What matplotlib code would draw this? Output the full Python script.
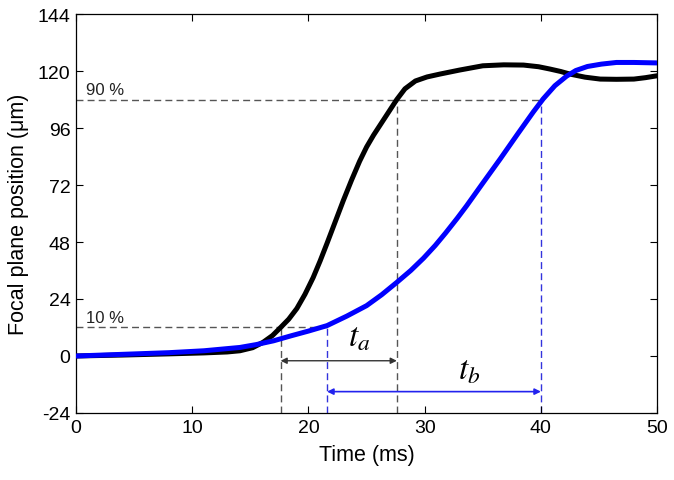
import numpy as np
import matplotlib
matplotlib.use("Agg")
import matplotlib.pyplot as plt

# Data
t_black = [0, 4, 8, 11, 13, 14.1, 15.2, 16.1, 16.9, 17.6, 18.3, 19.0, 19.7, 20.4, 21.0, 21.6, 22.3, 23.0,
           23.7, 24.4, 25.0, 25.6, 26.6, 27.6, 28.3, 29.2, 30.2, 31.3, 33.0, 35.0, 36.8, 38.5, 39.8, 40.8,
           41.7, 42.5, 43.8, 45.1, 46.5, 48.0, 49.0, 50]
y_black = [0, 0.4, 0.9, 1.3, 1.7, 2.2, 3.5, 5.8, 8.6, 12.0, 15.5, 20.0, 26.0, 33.0, 40.0, 47.5, 56.5, 65.5,
           74.0, 82.0, 88.0, 93.0, 100.5, 108.0, 112.5, 115.8, 117.5, 118.7, 120.4, 122.2, 122.6, 122.5, 121.8, 120.8,
           119.8, 118.7, 117.4, 116.6, 116.5, 116.6, 117.2, 118]

t_blue = [0, 4, 8, 11, 14.1, 15.5, 17.0, 18.5, 20.0, 21.6, 23.3, 25.0, 26.3, 27.6, 28.8, 29.9, 30.9, 31.8,
          32.8, 33.6, 35.0, 36.5, 38.0, 39.35, 40.2, 41.2, 42.2, 43.0, 44.0, 45.2, 46.5, 48.0, 50]
y_blue = [0, 0.7, 1.4, 2.2, 3.6, 4.8, 6.4, 8.5, 10.5, 12.8, 16.8, 21.2, 25.8, 31.0, 36.0, 41.2, 46.5, 51.8,
          58.0, 63.2, 72.8, 83.0, 93.5, 102.8, 108.3, 113.8, 117.8, 120.2, 121.9, 122.9, 123.6, 123.6, 123.4]

x_ticks = [0, 10, 20, 30, 40, 50]
y_ticks = [-24, 0, 24, 48, 72, 96, 120, 144]

lvl10, lvl90 = 12, 108
ta_start, ta_end = 17.6, 27.6
tb_start, tb_end = 21.6, 40.0
arrow_a_y, arrow_b_y = -2, -15

plt.rcParams['font.family'] = ['Liberation Sans', 'DejaVu Sans']
plt.rcParams['axes.unicode_minus'] = False

fig = plt.figure(figsize=(6.74, 4.81), dpi=100)
ax = fig.add_axes([0.1128, 0.1393, 0.975 - 0.1128, 0.9688 - 0.1393])

gray = '#555555'
dash = (0, (5, 3))
# reference lines
ax.plot([0, tb_end], [lvl90, lvl90], color=gray, lw=1.0, linestyle=dash, zorder=1)
ax.plot([0, tb_start], [lvl10, lvl10], color=gray, lw=1.0, linestyle=dash, zorder=1)
ax.plot([ta_start, ta_start], [-24, lvl10], color=gray, lw=1.0, linestyle=dash, zorder=1)
ax.plot([ta_end, ta_end], [-24, lvl90], color=gray, lw=1.0, linestyle=dash, zorder=1)
ax.plot([tb_start, tb_start], [-24, lvl10], color='#3333dd', lw=1.0, linestyle=dash, zorder=1)
ax.plot([tb_end, tb_end], [-24, lvl90], color='#3333dd', lw=1.0, linestyle=dash, zorder=1)

ax.plot(t_black, y_black, color='black', lw=3.6, zorder=3, solid_joinstyle='round')
ax.plot(t_blue, y_blue, color='#0000ff', lw=3.6, zorder=4, solid_joinstyle='round')

# arrows
ax.annotate('', xy=(ta_start, arrow_a_y), xytext=(ta_end, arrow_a_y),
            arrowprops=dict(arrowstyle='<|-|>', color='#333333', lw=1.0,
                            mutation_scale=9, shrinkA=0, shrinkB=0))
ax.annotate('', xy=(tb_start, arrow_b_y), xytext=(tb_end, arrow_b_y),
            arrowprops=dict(arrowstyle='<|-|>', color='#2222ee', lw=1.2,
                            mutation_scale=9, shrinkA=0, shrinkB=0))

ax.text(24.4, 1.5, r'$t_a$', fontsize=24, math_fontfamily='stix', ha='center', va='bottom')
ax.text(33.8, -12.5, r'$t_b$', fontsize=24, math_fontfamily='stix', ha='center', va='bottom')
ax.text(0.9, lvl90 + 1, '90 %', fontsize=12, color='#222222', ha='left', va='bottom')
ax.text(0.9, lvl10 + 1, '10 %', fontsize=12, color='#222222', ha='left', va='bottom')

ax.set_xlim(0, 50)
ax.set_ylim(-24, 144)
ax.set_xticks(x_ticks)
ax.set_yticks(y_ticks)
ax.tick_params(direction='in', top=True, right=True, labelsize=14, length=5, width=0.8, pad=4)
for s in ax.spines.values():
    s.set_linewidth(0.9)
ax.set_xlabel('Time (ms)', fontsize=15.5, labelpad=6)
ax.set_ylabel('Focal plane position (μm)', fontsize=15.5, labelpad=6)

fig.savefig('out.png', dpi=100)
